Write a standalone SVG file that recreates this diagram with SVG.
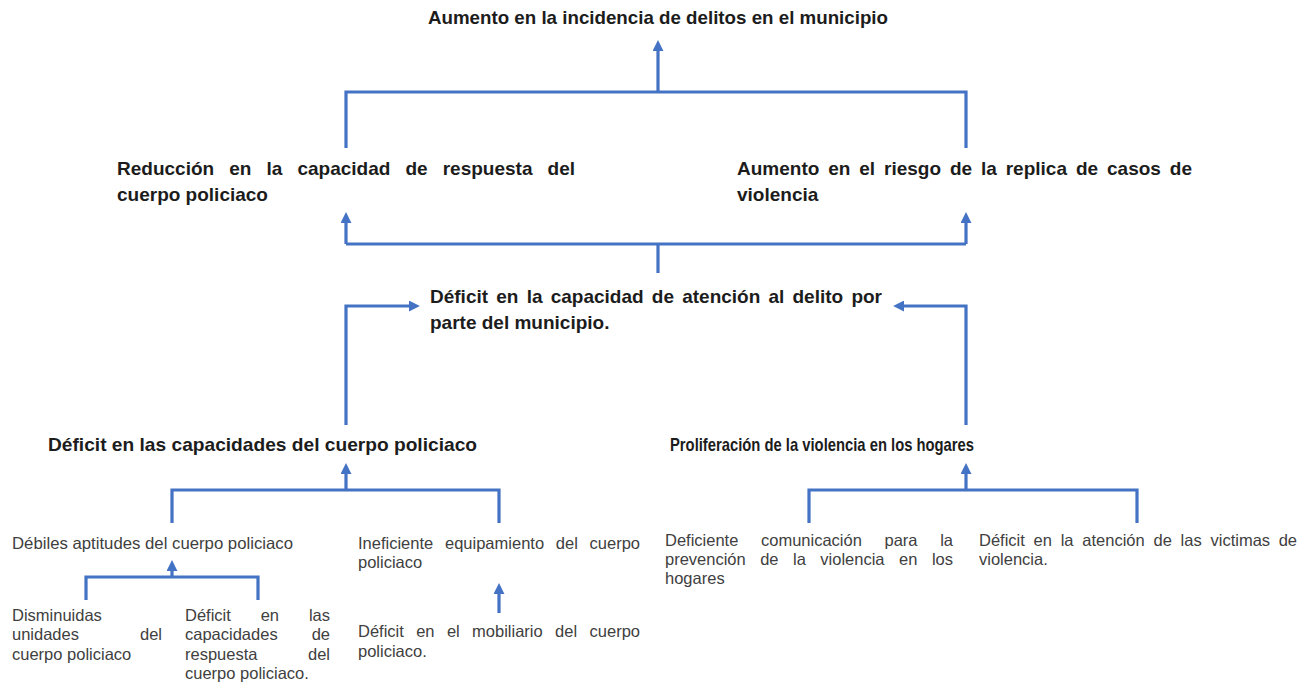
<svg xmlns="http://www.w3.org/2000/svg" width="1307" height="687" viewBox="0 0 1307 687">
<style>
.b{font-family:"Liberation Sans",Arial,sans-serif;font-weight:bold;font-size:19px;fill:#1c1c1c}
.r{font-family:"Liberation Sans",Arial,sans-serif;font-size:16.5px;fill:#404040}
.e{text-anchor:end}
.c{fill:none;stroke:#4472C4;stroke-width:3.2}
.a{marker-end:url(#ah)}
</style>
<defs>
<marker id="ah" viewBox="0 0 10 10" refX="1" refY="5" markerWidth="11" markerHeight="11" markerUnits="userSpaceOnUse" orient="auto">
<path d="M0,0 L10,5 L0,10 z" fill="#4472C4"/>
</marker>
</defs>
<rect width="1307" height="687" fill="#ffffff"/>
<g id="connectors">
<path class="c a" d="M658,92 V50"/>
<path class="c" d="M346,148 V92 H966 V148"/>
<path class="c a" d="M346,244 V222"/>
<path class="c a" d="M966,244 V222"/>
<path class="c" d="M346,244 H966 M658,244 V273"/>
<path class="c a" d="M346,425 V306 H410"/>
<path class="c a" d="M966,425 V306 H903"/>
<path class="c a" d="M346,490 V473"/>
<path class="c" d="M172,523 V490 H499 V523"/>
<path class="c a" d="M172,577 V570"/>
<path class="c" d="M86,600 V577 H258 V600"/>
<path class="c a" d="M499,613 V593"/>
<path class="c a" d="M966,490 V473"/>
<path class="c" d="M809,523 V490 H1137 V523"/>
</g>
<g id="n-top">
<text class="b" x="428" y="24" textLength="460" lengthAdjust="spacingAndGlyphs">Aumento en la incidencia de delitos en el municipio</text>
</g>
<g id="n-reduccion">
<text class="b" y="175"><tspan x="117">Reducción</tspan><tspan x="229.2">en</tspan><tspan x="266.5">la</tspan><tspan x="297.4">capacidad</tspan><tspan x="405.4">de</tspan><tspan x="442.7">respuesta</tspan><tspan x="575" class="e">del</tspan></text>
<text class="b" x="117" y="201">cuerpo policiaco</text>
</g>
<g id="n-riesgo">
<text class="b" y="175"><tspan x="737">Aumento</tspan><tspan x="828.2">en</tspan><tspan x="859.3">el</tspan><tspan x="884">riesgo</tspan><tspan x="949.9">de</tspan><tspan x="981">la</tspan><tspan x="1005.7">replica</tspan><tspan x="1075.9">de</tspan><tspan x="1107">casos</tspan><tspan x="1192" class="e">de</tspan></text>
<text class="b" x="737" y="201">violencia</text>
</g>
<g id="n-deficit-atencion">
<text class="b" y="303"><tspan x="430">Déficit</tspan><tspan x="496.3">en</tspan><tspan x="526.7">la</tspan><tspan x="550.7">capacidad</tspan><tspan x="651.8">de</tspan><tspan x="682.2">atención</tspan><tspan x="768.5">al</tspan><tspan x="792.5">delito</tspan><tspan x="882" class="e">por</tspan></text>
<text class="b" x="430" y="329">parte del municipio.</text>
</g>
<g id="n-deficit-capacidades">
<text class="b" x="48" y="451" textLength="429" lengthAdjust="spacingAndGlyphs">Déficit en las capacidades del cuerpo policiaco</text>
</g>
<g id="n-proliferacion">
<text class="b" x="670" y="451" textLength="304" lengthAdjust="spacingAndGlyphs">Proliferación de la violencia en los hogares</text>
</g>
<g id="n-debiles">
<text class="r" x="12" y="549" textLength="281" lengthAdjust="spacingAndGlyphs">Débiles aptitudes del cuerpo policiaco</text>
</g>
<g id="n-ineficiente">
<text class="r" y="549"><tspan x="358">Ineficiente</tspan><tspan x="445">equipamiento</tspan><tspan x="555.8">del</tspan><tspan x="640" class="e">cuerpo</tspan></text>
<text class="r" x="358" y="568">policiaco</text>
</g>
<g id="n-disminuidas">
<text class="r" x="12" y="621">Disminuidas</text>
<text class="r" y="640"><tspan x="12">unidades</tspan><tspan x="162" class="e">del</tspan></text>
<text class="r" x="12" y="660">cuerpo policiaco</text>
</g>
<g id="n-deficit-respuesta">
<text class="r" y="621"><tspan x="185">Déficit</tspan><tspan x="260.7">en</tspan><tspan x="330" class="e">las</tspan></text>
<text class="r" y="640"><tspan x="185">capacidades</tspan><tspan x="330" class="e">de</tspan></text>
<text class="r" y="660"><tspan x="185">respuesta</tspan><tspan x="330" class="e">del</tspan></text>
<text class="r" x="185" y="679">cuerpo policiaco.</text>
</g>
<g id="n-mobiliario">
<text class="r" y="637"><tspan x="358">Déficit</tspan><tspan x="416.2">en</tspan><tspan x="446.9">el</tspan><tspan x="472.1">mobiliario</tspan><tspan x="555.1">del</tspan><tspan x="640" class="e">cuerpo</tspan></text>
<text class="r" x="358" y="657">policiaco.</text>
</g>
<g id="n-comunicacion">
<text class="r" y="546"><tspan x="665">Deficiente</tspan><tspan x="761">comunicación</tspan><tspan x="884.5">para</tspan><tspan x="953" class="e">la</tspan></text>
<text class="r" y="565"><tspan x="665">prevención</tspan><tspan x="760.2">de</tspan><tspan x="793">la</tspan><tspan x="820.3">violencia</tspan><tspan x="899">en</tspan><tspan x="953" class="e">los</tspan></text>
<text class="r" x="665" y="584">hogares</text>
</g>
<g id="n-victimas">
<text class="r" y="546"><tspan x="979">Déficit</tspan><tspan x="1033.6">en</tspan><tspan x="1060.7">la</tspan><tspan x="1082.3">atención</tspan><tspan x="1153.5">de</tspan><tspan x="1180.6">las</tspan><tspan x="1210.5">victimas</tspan><tspan x="1297" class="e">de</tspan></text>
<text class="r" x="979" y="565">violencia.</text>
</g>
</svg>
